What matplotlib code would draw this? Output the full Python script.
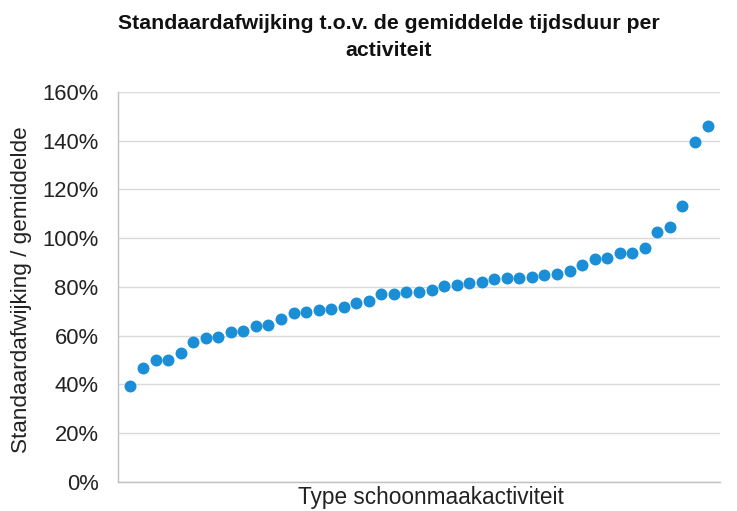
import matplotlib
matplotlib.use("Agg")
import matplotlib.pyplot as plt
from matplotlib.ticker import FuncFormatter

plt.rcParams['font.family'] = ['Liberation Sans', 'DejaVu Sans']

title = "Standaardafwijking t.o.v. de gemiddelde tijdsduur per\nactiviteit"
y_label = "Standaardafwijking / gemiddelde"
x_label = "Type schoonmaakactiviteit"

values = [39.4, 46.6, 49.9, 49.9, 52.8, 57.3, 59.0, 59.5, 61.4, 61.9,
          63.8, 64.2, 66.7, 69.4, 69.8, 70.4, 70.9, 71.6, 73.2, 74.1,
          76.9, 77.3, 78.1, 78.1, 78.6, 80.3, 80.7, 81.5, 82.1, 83.3,
          83.5, 83.7, 83.9, 84.7, 85.1, 86.7, 89.2, 91.4, 91.7, 94.1,
          94.1, 96.0, 102.7, 104.7, 113.3, 139.6, 146.2]
positions = list(range(1, len(values) + 1))
y_ticks = [0, 20, 40, 60, 80, 100, 120, 140, 160]

fig = plt.figure(figsize=(7.37, 5.11), dpi=100)
ax = fig.add_axes([0.160, 0.057, 0.817, 0.763])

ax.plot(positions, values, linestyle='none', marker='o', markersize=8.6,
        color='#1A8ED6', markeredgewidth=0, zorder=3)

ax.set_xlim(0, len(values) + 1)
ax.set_ylim(0, 160)
ax.set_yticks(y_ticks)
ax.yaxis.set_major_formatter(FuncFormatter(lambda v, p: f"{int(v)}%"))
ax.set_xticks([])
ax.tick_params(axis='y', length=0, labelsize=15.8, pad=14, labelcolor='#222222')
ax.grid(axis='y', color='#D9D9D9', linewidth=1.0)
ax.set_axisbelow(True)
for s in ['top', 'right']:
    ax.spines[s].set_visible(False)
for s in ['left', 'bottom']:
    ax.spines[s].set_color('#BFBFBF')
    ax.spines[s].set_linewidth(1.0)

fig.text(22 / 737, 1 - 290 / 511, y_label, fontsize=16.2, color='#222222',
         ha='center', va='center', rotation=90)
fig.text(431 / 737, 1 - 497 / 511, x_label, fontsize=16.3, color='#222222',
         ha='center', va='center')
fig.text(389 / 737, 1 - 37 / 511, title, fontsize=15.3, fontweight='bold',
         ha='center', va='center', linespacing=1.5, color='#111111')

fig.savefig("out.png", dpi=100)
